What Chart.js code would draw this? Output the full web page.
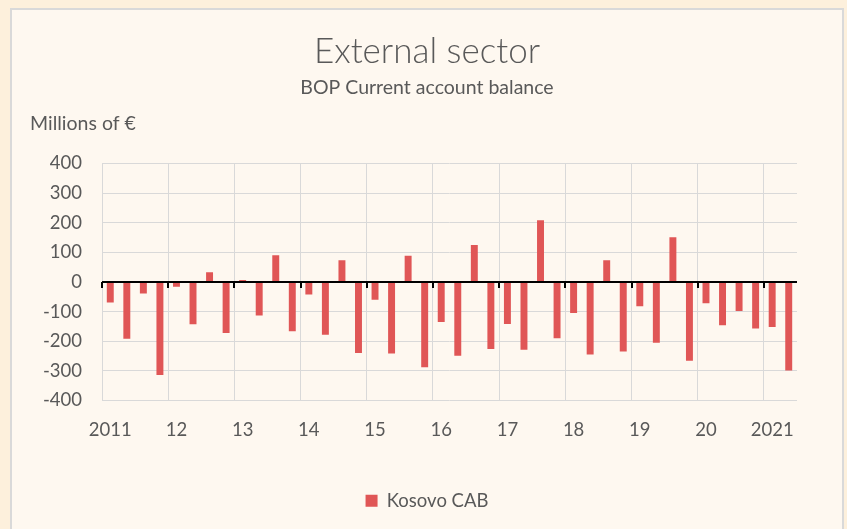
<!DOCTYPE html>
<html>
<head>
<meta charset="utf-8">
<title>External sector</title>
<script src="https://cdn.jsdelivr.net/npm/chart.js@4/dist/chart.umd.min.js"></script>
<style>
  html, body { margin: 0; padding: 0; }
  body { width: 847px; height: 529px; background: #fdf0dc; position: relative; overflow: hidden; }
  #panel {
    position: absolute; left: 10px; top: 8px; width: 830px; height: 540px;
    background: #fef8f0; border: 2px solid #d9d9d9;
  }
  #wrap { position: absolute; left: 0; top: 0; width: 847px; height: 529px; }
</style>
</head>
<body>
<div id="panel"></div>
<div id="wrap"><canvas id="cabChart" width="847" height="529"></canvas></div>
<script>
// Quarterly data, 2011 Q1 - 2021 Q2
const years = ['2011', '2012', '2013', '2014', '2015', '2016', '2017', '2018', '2019', '2020', '2021'];
const yearTicks = ['2011', '12', '13', '14', '15', '16', '17', '18', '19', '20', '2021'];
const quarters = ['Q1', 'Q2', 'Q3', 'Q4'];

// Kosovo current account balance, millions of €
const cabValues = [
  -69, -192, -39, -314,   // 2011
  -16, -143, 33, -172,    // 2012
  7, -113, 90, -166,      // 2013
  -42, -178, 73, -240,    // 2014
  -60, -241, 88, -288,    // 2015
  -135, -249, 125, -226,  // 2016
  -142, -229, 208, -190,  // 2017
  -105, -245, 73, -235,   // 2018
  -82, -205, 151, -266,   // 2019
  -72, -146, -98, -157,   // 2020
  -152, -299              // 2021
];

const categories = [];
years.forEach(y => quarters.forEach(q => {
  if (categories.length < cabValues.length) categories.push(y + ' ' + q);
}));

const textColor = '#595959';
const gridColor = '#d9d9d9';
const baseFont = "Lato, 'Open Sans', sans-serif";

// Zero line with small year ticks hanging below it
const zeroAxis = {
  id: 'zeroAxis',
  afterDatasetsDraw(chart) {
    const { ctx, scales: { x, y } } = chart;
    const y0 = y.getPixelForValue(0);
    const step = x.width / categories.length;
    ctx.save();
    ctx.strokeStyle = '#000';
    ctx.lineWidth = 2;
    ctx.beginPath();
    ctx.moveTo(x.left, y0);
    ctx.lineTo(x.right, y0);
    ctx.stroke();
    for (let i = 0; i < categories.length; i += 4) {
      const px = Math.round(x.left + i * step);
      ctx.beginPath();
      ctx.moveTo(px, y0);
      ctx.lineTo(px, y0 + 6);
      ctx.stroke();
    }
    ctx.restore();
  }
};

// Unit label above the value axis
const unitLabel = {
  id: 'unitLabel',
  afterDraw(chart) {
    const ctx = chart.ctx;
    ctx.save();
    ctx.fillStyle = textColor;
    ctx.font = '19.5px ' + baseFont;
    ctx.textAlign = 'left';
    ctx.textBaseline = 'middle';
    ctx.fillText('Millions of €', 30, 124);
    ctx.restore();
  }
};

new Chart(document.getElementById('cabChart').getContext('2d'), {
  type: 'bar',
  data: {
    labels: categories,
    datasets: [{
      label: 'Kosovo CAB',
      data: cabValues,
      backgroundColor: '#e05656',
      borderWidth: 0,
      barPercentage: 0.42,
      categoryPercentage: 1
    }]
  },
  options: {
    responsive: false,
    animation: false,
    layout: { padding: { left: 7, right: 0, top: 0, bottom: 9 } },
    plugins: {
      title: {
        display: true,
        text: 'External sector',
        color: textColor,
        font: { family: baseFont, size: 35, weight: '300' },
        padding: { top: 31, bottom: 3 }
      },
      subtitle: {
        display: true,
        text: 'BOP Current account balance',
        color: textColor,
        font: { family: baseFont, size: 19.5 },
        padding: { top: 0, bottom: 64 }
      },
      legend: {
        position: 'bottom',
        labels: {
          color: textColor,
          font: { family: baseFont, size: 18.5 },
          boxWidth: 12,
          boxHeight: 12,
          padding: 10
        }
      },
      tooltip: { enabled: false }
    },
    scales: {
      x: {
        grid: {
          offset: true,
          drawTicks: false,
          color: c => (c.index !== undefined && c.index % 4 === 0) ? gridColor : 'transparent'
        },
        border: { display: false },
        ticks: {
          autoSkip: false,
          maxRotation: 0,
          padding: 18,
          color: textColor,
          font: { family: baseFont, size: 18.5 },
          callback: (v, i) => i % 4 === 0 ? yearTicks[i / 4] : ''
        },
        afterFit: s => { s.height = 81; }
      },
      y: {
        min: -400,
        max: 400,
        grid: { drawTicks: false, color: gridColor },
        border: { display: false },
        ticks: {
          stepSize: 100,
          padding: 20,
          color: textColor,
          font: { family: baseFont, size: 18.5 }
        },
        afterFit: s => { s.width = 95; }
      },
      // empty right-hand margin so the plot stops short of the panel edge
      yRight: {
        position: 'right',
        grid: { display: false },
        border: { display: false },
        ticks: { display: false },
        afterFit: s => { s.width = 50; }
      }
    }
  },
  plugins: [zeroAxis, unitLabel]
});
</script>
</body>
</html>
